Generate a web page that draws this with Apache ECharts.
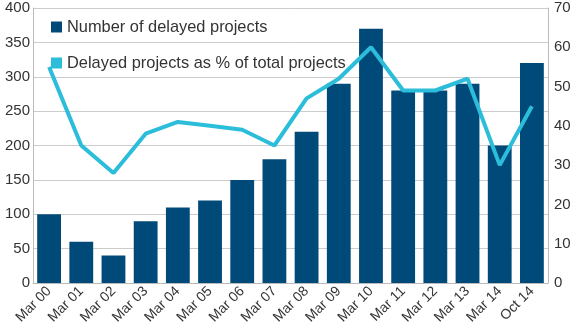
<!DOCTYPE html>
<html><head><meta charset="utf-8">
<script src="https://cdn.jsdelivr.net/npm/echarts@6/dist/echarts.min.js"></script>
<style>html,body{margin:0;padding:0;background:#fff}#c{width:575px;height:333px}</style>
</head><body><div id="c"></div>
<script>
const categories = ['Mar 00','Mar 01','Mar 02','Mar 03','Mar 04','Mar 05','Mar 06','Mar 07','Mar 08','Mar 09','Mar 10','Mar 11','Mar 12','Mar 13','Mar 14','Oct 14'];
const delayedCount = [100,60,40,90,110,120,150,180,220,290,370,280,280,290,200,320];
const delayedPct = [55,35,28,38,41,40,39,35,47,52,60,49,49,52,30,45];
const chart = echarts.init(document.getElementById('c'));
const font = 'Liberation Sans, Arial, sans-serif';
chart.setOption({
  animation:false,
  textStyle:{fontFamily:font},
  grid:{left:33,right:27,top:8,bottom:50},
  legend:{orient:'vertical',left:46,top:14,itemGap:20,itemWidth:11,itemHeight:11,
    textStyle:{fontSize:16.4,color:'#333',fontFamily:font},
    data:[{name:'Number of delayed projects',icon:'rect'},{name:'Delayed projects as % of total projects',icon:'rect'}]},
  xAxis:{type:'category',data:categories,
    axisLine:{lineStyle:{color:'#bbb'}},axisTick:{show:false},
    axisLabel:{rotate:45,fontSize:14,color:'#333',interval:0,margin:6}},
  yAxis:[
    {type:'value',min:0,max:400,interval:50,
     axisLine:{show:true,lineStyle:{color:'#bbb'}},axisTick:{show:false},
     axisLabel:{fontSize:15,color:'#333',margin:3},
     splitLine:{lineStyle:{color:'#ccc'}}},
    {type:'value',min:0,max:70,interval:10,position:'right',
     axisLine:{show:true,lineStyle:{color:'#bbb'}},axisTick:{show:false},
     axisLabel:{fontSize:15,color:'#333',margin:6},
     splitLine:{show:false}}
  ],
  series:[
    {name:'Number of delayed projects',type:'bar',data:delayedCount,barWidth:'74%',
     itemStyle:{color:'#004a7a'}},
    {name:'Delayed projects as % of total projects',type:'line',yAxisIndex:1,data:delayedPct,
     symbol:'none',lineStyle:{color:'#2bbdd9',width:4},itemStyle:{color:'#2bbdd9'}}
  ]
});
</script></body></html>
